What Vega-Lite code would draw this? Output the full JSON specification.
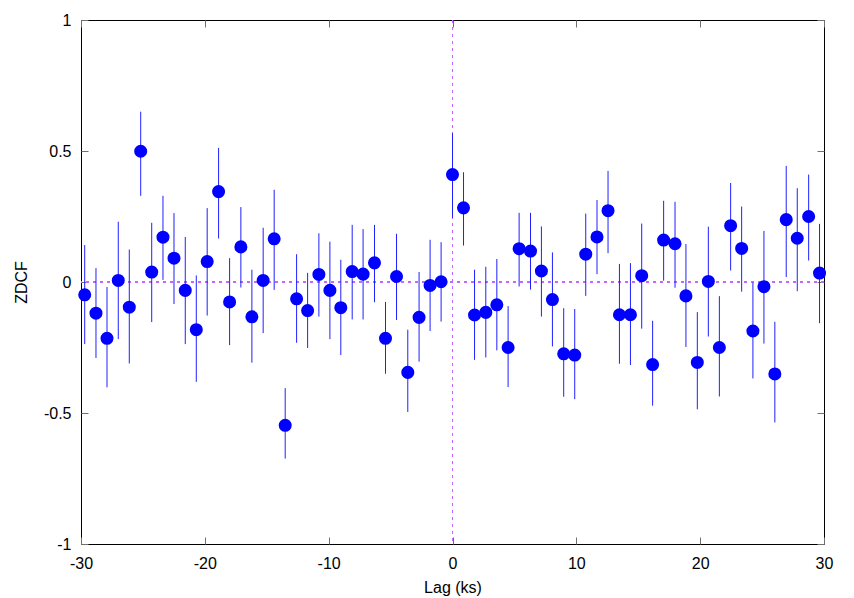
{
  "$schema": "https://vega.github.io/schema/vega-lite/v6.json",
  "autosize": "none",
  "padding": {"left": 81, "top": 20, "right": 30, "bottom": 54},
  "width": 743,
  "height": 524,
  "background": "white",
  "config": {
    "view": {"stroke": "#000000", "strokeWidth": 1},
    "font": "Liberation Sans",
    "axis": {
      "labelFont": "Liberation Sans",
      "titleFont": "Liberation Sans",
      "labelFontSize": 16,
      "titleFontSize": 16,
      "titleFontWeight": "normal",
      "labelColor": "#000000",
      "titleColor": "#000000",
      "grid": false,
      "domain": false,
      "tickColor": "#707070",
      "tickWidth": 1,
      "tickSize": -7
    }
  },
  "data": {
    "values": [
      {"lag": -29.70, "zdcf": -0.049, "lo": -0.237, "hi": 0.141},
      {"lag": -28.79, "zdcf": -0.119, "lo": -0.290, "hi": 0.053},
      {"lag": -27.90, "zdcf": -0.215, "lo": -0.402, "hi": -0.019},
      {"lag": -26.99, "zdcf": 0.006, "lo": -0.218, "hi": 0.230},
      {"lag": -26.10, "zdcf": -0.096, "lo": -0.311, "hi": 0.124},
      {"lag": -25.18, "zdcf": 0.499, "lo": 0.329, "hi": 0.650},
      {"lag": -24.29, "zdcf": 0.038, "lo": -0.153, "hi": 0.226},
      {"lag": -23.38, "zdcf": 0.171, "lo": 0.008, "hi": 0.329},
      {"lag": -22.49, "zdcf": 0.091, "lo": -0.084, "hi": 0.263},
      {"lag": -21.58, "zdcf": -0.032, "lo": -0.237, "hi": 0.172},
      {"lag": -20.69, "zdcf": -0.182, "lo": -0.381, "hi": 0.025},
      {"lag": -19.81, "zdcf": 0.078, "lo": -0.128, "hi": 0.282},
      {"lag": -18.89, "zdcf": 0.345, "lo": 0.166, "hi": 0.512},
      {"lag": -18.00, "zdcf": -0.076, "lo": -0.241, "hi": 0.091},
      {"lag": -17.09, "zdcf": 0.134, "lo": -0.021, "hi": 0.286},
      {"lag": -16.20, "zdcf": -0.133, "lo": -0.308, "hi": 0.047},
      {"lag": -15.29, "zdcf": 0.006, "lo": -0.195, "hi": 0.207},
      {"lag": -14.40, "zdcf": 0.165, "lo": -0.030, "hi": 0.352},
      {"lag": -13.51, "zdcf": -0.547, "lo": -0.674, "hi": -0.405},
      {"lag": -12.59, "zdcf": -0.064, "lo": -0.232, "hi": 0.106},
      {"lag": -11.70, "zdcf": -0.109, "lo": -0.252, "hi": 0.035},
      {"lag": -10.79, "zdcf": 0.029, "lo": -0.132, "hi": 0.186},
      {"lag": -9.90, "zdcf": -0.032, "lo": -0.218, "hi": 0.154},
      {"lag": -9.02, "zdcf": -0.098, "lo": -0.279, "hi": 0.085},
      {"lag": -8.10, "zdcf": 0.040, "lo": -0.143, "hi": 0.218},
      {"lag": -7.22, "zdcf": 0.030, "lo": -0.143, "hi": 0.202},
      {"lag": -6.30, "zdcf": 0.073, "lo": -0.077, "hi": 0.218},
      {"lag": -5.41, "zdcf": -0.215, "lo": -0.350, "hi": -0.076},
      {"lag": -4.52, "zdcf": 0.021, "lo": -0.145, "hi": 0.184},
      {"lag": -3.61, "zdcf": -0.345, "lo": -0.496, "hi": -0.182},
      {"lag": -2.70, "zdcf": -0.135, "lo": -0.304, "hi": 0.038},
      {"lag": -1.81, "zdcf": -0.013, "lo": -0.187, "hi": 0.161},
      {"lag": -0.92, "zdcf": 0.001, "lo": -0.151, "hi": 0.152},
      {"lag": 0.00, "zdcf": 0.410, "lo": 0.245, "hi": 0.568},
      {"lag": 0.89, "zdcf": 0.283, "lo": 0.139, "hi": 0.419},
      {"lag": 1.78, "zdcf": -0.126, "lo": -0.297, "hi": 0.047},
      {"lag": 2.69, "zdcf": -0.116, "lo": -0.288, "hi": 0.058},
      {"lag": 3.58, "zdcf": -0.087, "lo": -0.261, "hi": 0.088},
      {"lag": 4.49, "zdcf": -0.250, "lo": -0.401, "hi": -0.092},
      {"lag": 5.38, "zdcf": 0.127, "lo": -0.017, "hi": 0.264},
      {"lag": 6.30, "zdcf": 0.118, "lo": -0.029, "hi": 0.264},
      {"lag": 7.18, "zdcf": 0.042, "lo": -0.132, "hi": 0.212},
      {"lag": 8.07, "zdcf": -0.067, "lo": -0.246, "hi": 0.113},
      {"lag": 8.98, "zdcf": -0.274, "lo": -0.438, "hi": -0.100},
      {"lag": 9.87, "zdcf": -0.279, "lo": -0.447, "hi": -0.103},
      {"lag": 10.76, "zdcf": 0.106, "lo": -0.053, "hi": 0.261},
      {"lag": 11.67, "zdcf": 0.172, "lo": 0.030, "hi": 0.313},
      {"lag": 12.56, "zdcf": 0.272, "lo": 0.110, "hi": 0.424},
      {"lag": 13.48, "zdcf": -0.125, "lo": -0.312, "hi": 0.069},
      {"lag": 14.37, "zdcf": -0.125, "lo": -0.317, "hi": 0.072},
      {"lag": 15.28, "zdcf": 0.024, "lo": -0.178, "hi": 0.223},
      {"lag": 16.16, "zdcf": -0.315, "lo": -0.472, "hi": -0.148},
      {"lag": 17.05, "zdcf": 0.160, "lo": 0.005, "hi": 0.310},
      {"lag": 17.97, "zdcf": 0.146, "lo": -0.022, "hi": 0.306},
      {"lag": 18.85, "zdcf": -0.053, "lo": -0.248, "hi": 0.145},
      {"lag": 19.77, "zdcf": -0.307, "lo": -0.486, "hi": -0.115},
      {"lag": 20.66, "zdcf": 0.002, "lo": -0.208, "hi": 0.211},
      {"lag": 21.55, "zdcf": -0.250, "lo": -0.437, "hi": -0.054},
      {"lag": 22.46, "zdcf": 0.215, "lo": 0.044, "hi": 0.378},
      {"lag": 23.35, "zdcf": 0.128, "lo": -0.037, "hi": 0.288},
      {"lag": 24.26, "zdcf": -0.187, "lo": -0.368, "hi": -0.002},
      {"lag": 25.15, "zdcf": -0.018, "lo": -0.235, "hi": 0.195},
      {"lag": 26.03, "zdcf": -0.351, "lo": -0.536, "hi": -0.152},
      {"lag": 26.95, "zdcf": 0.238, "lo": 0.019, "hi": 0.443},
      {"lag": 27.84, "zdcf": 0.167, "lo": -0.035, "hi": 0.358},
      {"lag": 28.76, "zdcf": 0.250, "lo": 0.082, "hi": 0.410},
      {"lag": 29.64, "zdcf": 0.034, "lo": -0.157, "hi": 0.222}
    ]
  },
  "resolve": {"axis": {"x": "independent", "y": "independent"}},
  "layer": [
    {
      "mark": {"type": "rule", "color": "#c466ff", "strokeWidth": 1, "strokeDash": [3, 4]},
      "encoding": {
        "y": {"datum": 0, "type": "quantitative", "axis": null, "scale": {"domain": [-1, 1], "nice": false, "zero": false}}
      }
    },
    {
      "mark": {"type": "rule", "color": "#c466ff", "strokeWidth": 1, "strokeDash": [3, 4]},
      "encoding": {
        "x": {"datum": 0, "type": "quantitative", "axis": null, "scale": {"domain": [-30, 30], "nice": false, "zero": false}}
      }
    },
    {
      "mark": {"type": "rule", "color": "#2020ff", "strokeWidth": 1},
      "encoding": {
        "x": {
          "field": "lag", "type": "quantitative",
          "scale": {"domain": [-30, 30], "nice": false, "zero": false},
          "axis": {"orient": "bottom", "values": [-30, -20, -10, 0, 10, 20, 30], "labelExpr": "toString(datum.value)", "labelPadding": 18, "title": "Lag (ks)", "titlePadding": 8, "labelFlush": false}
        },
        "y": {
          "field": "lo", "type": "quantitative",
          "scale": {"domain": [-1, 1], "nice": false, "zero": false},
          "axis": {"orient": "left", "values": [-1, -0.5, 0, 0.5, 1], "labelExpr": "toString(datum.value)", "labelPadding": 17, "title": "ZDCF", "titlePadding": 14, "labelFlush": false}
        },
        "y2": {"field": "hi"}
      }
    },
    {
      "mark": {"type": "circle", "color": "#0000ff", "opacity": 1, "size": 170},
      "encoding": {
        "x": {
          "field": "lag", "type": "quantitative",
          "scale": {"domain": [-30, 30], "nice": false, "zero": false},
          "axis": {"orient": "top", "values": [-30, -20, -10, 0, 10, 20, 30], "labels": false, "title": null}
        },
        "y": {
          "field": "zdcf", "type": "quantitative",
          "scale": {"domain": [-1, 1], "nice": false, "zero": false},
          "axis": {"orient": "right", "values": [-1, -0.5, 0, 0.5, 1], "labels": false, "title": null}
        }
      }
    }
  ]
}
